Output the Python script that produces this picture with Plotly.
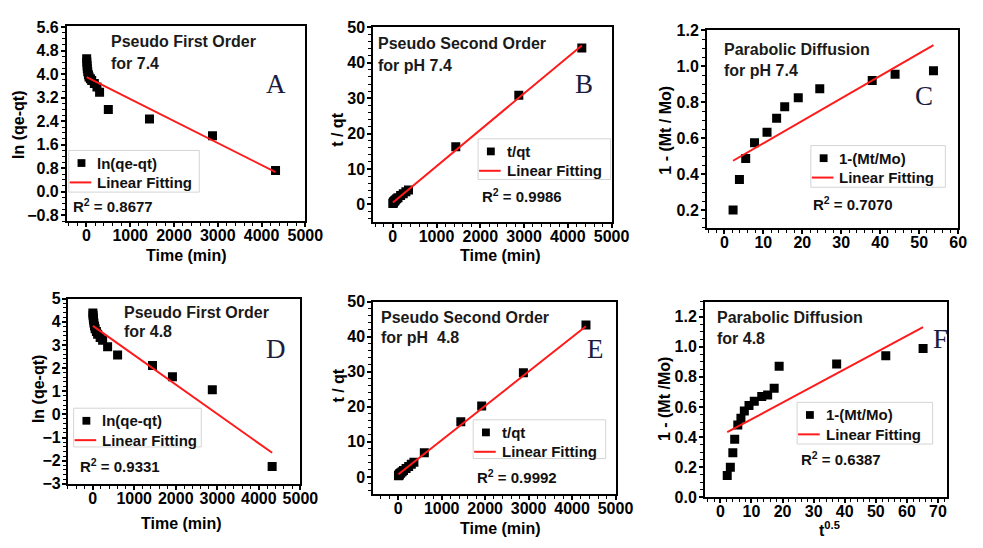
import plotly.graph_objects as go

W, H = 983, 548
SANS = "Liberation Sans, Arial, sans-serif"
SERIF = "Liberation Serif, Times New Roman, serif"

# ---- Panel A: pseudo first order, pH 7.4 ----
time_a = [5, 10, 15, 20, 30, 45, 60, 90, 120, 180, 240, 300, 500, 1440, 2880, 4320]
ln_a = [4.52, 4.40, 4.28, 4.18, 4.08, 3.98, 3.90, 3.84, 3.78, 3.68, 3.56, 3.38, 2.80, 2.47, 1.90, 0.72]
fit_a = [3.90, -7.48e-4]          # intercept, slope
r2_a = "0.8677"

# ---- Panel B: pseudo second order, pH 7.4 ----
time_b = [5, 10, 15, 20, 30, 45, 60, 90, 120, 180, 240, 300, 360, 1440, 2880, 4320]
tq_b = [0.30, 0.42, 0.55, 0.66, 0.85, 1.05, 1.25, 1.60, 1.90, 2.50, 3.00, 3.60, 4.10, 16.3, 30.8, 44.2]
fit_b = [0.50, 0.01028]
r2_b = "0.9986"

# ---- Panel C: parabolic diffusion, pH 7.4 ----
sqrt_c = [2.24, 3.87, 5.48, 7.75, 10.95, 13.42, 15.49, 18.97, 24.49, 37.95, 43.82, 53.67]
frac_c = [0.20, 0.37, 0.486, 0.574, 0.632, 0.71, 0.775, 0.825, 0.875, 0.92, 0.956, 0.975]
fit_c = [0.446, 0.01251]
r2_c = "0.7070"

# ---- Panel D: pseudo first order, pH 4.8 ----
time_d = [5, 10, 15, 20, 30, 45, 60, 90, 120, 180, 240, 360, 600, 1440, 1920, 2880, 4320]
ln_d = [4.38, 4.28, 4.18, 4.08, 3.95, 3.82, 3.70, 3.58, 3.46, 3.32, 3.20, 2.92, 2.57, 2.11, 1.63, 1.06, -2.25]
fit_d = [3.83, -1.271e-3]
r2_d = "0.9331"

# ---- Panel E: pseudo second order, pH 4.8 ----
time_e = [5, 10, 15, 20, 30, 45, 60, 90, 120, 180, 240, 300, 360, 600, 1440, 1920, 2880, 4320]
tq_e = [0.30, 0.40, 0.50, 0.60, 0.80, 1.00, 1.20, 1.50, 1.80, 2.40, 3.00, 3.60, 4.20, 6.90, 15.7, 20.2, 29.7, 43.3]
fit_e = [0.70, 0.00979]
r2_e = "0.9992"

# ---- Panel F: parabolic diffusion, pH 4.8 ----
sqrt_f = [2.2, 3.2, 4.0, 4.6, 5.6, 6.6, 7.7, 9.2, 10.9, 13.3, 15.2, 17.3, 18.9, 37.4, 53.2, 65.2]
frac_f = [0.145, 0.20, 0.296, 0.385, 0.48, 0.525, 0.573, 0.61, 0.638, 0.67, 0.68, 0.724, 0.87, 0.886, 0.94, 0.988]
fit_f = [0.408, 0.01107]
r2_f = "0.6387"


def fx(p):
    return p / W


def fy(p):
    return 1 - p / H


panels = [
    dict(x=time_a, y=ln_a, fit=fit_a, r2=r2_a, name="ln(qe-qt)",
         box=(68, 19, 311, 220), xr=[-450, 5000], yr=[-1.0, 5.62], xd=1000, yd=0.8, yfmt=".1f",
         xt=("Time (min)", 190, 255), yt=("ln (qe-qt)", 19, 121), ystand=-1,
         lines=[("Pseudo First Order", 111, 35), ("for 7.4", 111, 57)],
         letter=("A", 281, 78), leg=(70, 147, 203, 190), r2pos=(72, 204)),
    dict(x=time_b, y=tq_b, fit=fit_b, r2=r2_b, name="t/qt",
         box=(380, 20, 623, 221), xr=[-450, 5000], yr=[-5, 50], xd=1000, yd=10, yfmt="d",
         xt=("Time (min)", 510, 255), yt=("t / qt", 343, 126), ystand=-1,
         lines=[("Pseudo Second Order", 383, 37), ("for pH 7.4", 383, 59)],
         letter=("B", 595, 78), leg=(487, 135, 622, 177), r2pos=(489, 194)),
    dict(x=sqrt_c, y=frac_c, fit=fit_c, r2=r2_c, name="1-(Mt/Mo)",
         box=(720, 23, 976, 227), xr=[-4.5, 60], yr=[0.1, 1.2], xd=10, yd=0.2, yfmt=".1f",
         xt=None, yt=("1 - (Mt / Mo)", 677, 126), ystand=-1,
         lines=[("Parabolic Diffusion", 735, 43), ("for pH 7.4", 735, 64)],
         letter=("C", 941, 91), leg=(826, 142, 963, 185), r2pos=(826, 202)),
    dict(x=time_d, y=ln_d, fit=fit_d, r2=r2_d, name="ln(qe-qt)",
         box=(69, 300, 306, 491), xr=[-600, 5000], yr=[-3, 5], xd=1000, yd=1, yfmt="d",
         xt=("Time (min)", 185, 532), yt=("ln (qe-qt)", 40, 393), ystand=-2,
         lines=[("Pseudo First Order", 124, 314), ("for 4.8", 124, 334)],
         letter=("D", 281, 352), leg=(75, 413, 205, 453), r2pos=(79, 472)),
    dict(x=time_e, y=tq_e, fit=fit_e, r2=r2_e, name="t/qt",
         box=(380, 303, 627, 502), xr=[-580, 5000], yr=[-5, 50], xd=1000, yd=10, yfmt="d",
         xt=("Time (min)", 510, 537), yt=("t / qt", 345, 390), ystand=-1,
         lines=[("Pseudo Second Order", 386, 319), ("for pH  4.8", 386, 340)],
         letter=("E", 607, 352), leg=(482, 425, 617, 465), r2pos=(484, 483)),
    dict(x=sqrt_f, y=frac_f, fit=fit_f, r2=r2_f, name="1-(Mt/Mo)",
         box=(718, 303, 965, 505), xr=[-5, 73], yr=[0, 1.3], xd=10, yd=0.2, yfmt=".1f",
         xt=("t<sup>0.5</sup>", 845, 538), yt=("1 - (Mt /Mo)", 677, 404), ystand=-1,
         lines=[("Parabolic Diffusion", 728, 319), ("for 4.8", 728, 341)],
         letter=("F", 958, 342), leg=(812, 407, 950, 450), r2pos=(814, 465)),
]

fig = go.Figure()
annotations = []
shapes = []
layout = dict(
    width=W, height=H, margin=dict(l=0, r=0, t=0, b=0),
    paper_bgcolor="white", plot_bgcolor="white", showlegend=False,
)

tick_font = dict(family=SANS, size=16, color="black", weight="bold")
title_font = dict(family=SANS, size=16, color="black", weight="bold")
note_font = dict(family=SANS, size=16, color="#1a1a1a", weight="bold")
key_font = dict(family=SANS, size=15, color="#111111", weight="bold")


def paper_text(text, x, y, font, xanchor="left", angle=0):
    return dict(text=text, x=fx(x), y=fy(y), xref="paper", yref="paper",
                xanchor=xanchor, yanchor="middle", showarrow=False, font=font,
                textangle=angle)


for i, p in enumerate(panels, start=1):
    sfx = "" if i == 1 else str(i)
    xa, ya = "x" + sfx, "y" + sfx
    x0, y0, x1, y1 = p["box"]

    common = dict(
        showline=True, linecolor="black", linewidth=1.6, mirror=True,
        ticks="outside", ticklen=4, tickwidth=1.5, tickcolor="black",
        showgrid=False, zeroline=False, tickfont=tick_font, tick0=0,
        minor=dict(ticks="outside", ticklen=3, tickwidth=1, tickcolor="black", showgrid=False),
    )
    layout["xaxis" + sfx] = dict(common, domain=[fx(x0), fx(x1)], range=p["xr"], dtick=p["xd"],
                                 anchor=ya, ticklabelstandoff=-5)
    layout["yaxis" + sfx] = dict(common, domain=[fy(y1), fy(y0)], range=p["yr"], dtick=p["yd"],
                                 anchor=xa, tickformat=p["yfmt"], ticklabelstandoff=p["ystand"])

    fig.add_trace(go.Scatter(
        x=p["x"], y=p["y"], mode="markers", name=p["name"],
        marker=dict(symbol="square", size=9, color="black"),
        xaxis=xa, yaxis=ya,
    ))
    b0, b1 = p["fit"]
    ends = [min(p["x"]), max(p["x"])]
    fig.add_trace(go.Scatter(
        x=ends, y=[b0 + b1 * v for v in ends], mode="lines", name="Linear Fitting",
        line=dict(color="#ff1a1a", width=2), xaxis=xa, yaxis=ya,
    ))

    # axis titles
    if p["xt"]:
        t, tx, ty = p["xt"]
        annotations.append(paper_text(t, tx, ty, title_font, xanchor="center"))
    t, tx, ty = p["yt"]
    annotations.append(paper_text(t, tx, ty, title_font, xanchor="center", angle=-90))

    # legend box with a square key and a line key
    lx0, ly0, lx1, ly1 = p["leg"]
    row1, row2 = ly0 + 13, ly0 + 33
    shapes.append(dict(type="rect", xref="paper", yref="paper",
                       x0=fx(lx0), x1=fx(lx1), y0=fy(ly1), y1=fy(ly0),
                       line=dict(color="#d4d4d4", width=1), fillcolor="white", layer="above"))
    shapes.append(dict(type="rect", xref="paper", yref="paper",
                       x0=fx(lx0 + 9), x1=fx(lx0 + 17), y0=fy(row1 + 4), y1=fy(row1 - 4),
                       line=dict(width=0), fillcolor="black", layer="above"))
    shapes.append(dict(type="line", xref="paper", yref="paper",
                       x0=fx(lx0 + 1), x1=fx(lx0 + 23), y0=fy(row2), y1=fy(row2),
                       line=dict(color="#ff1a1a", width=2), layer="above"))
    annotations.append(paper_text(p["name"], lx0 + 27, row1, key_font))
    annotations.append(paper_text("Linear Fitting", lx0 + 27, row2, key_font))

    for text, tx, ty in p["lines"]:
        annotations.append(paper_text(text, tx, ty, note_font))
    letter, lx2, ly2 = p["letter"]
    annotations.append(paper_text(letter, lx2, ly2,
                                  dict(family=SERIF, size=27, color="#1c1c40"), xanchor="center"))
    rx, ry = p["r2pos"]
    annotations.append(paper_text("R<sup>2</sup> = " + p["r2"], rx, ry, key_font))

layout["annotations"] = annotations
layout["shapes"] = shapes
fig.update_layout(**layout)
fig.write_html("out.html")
